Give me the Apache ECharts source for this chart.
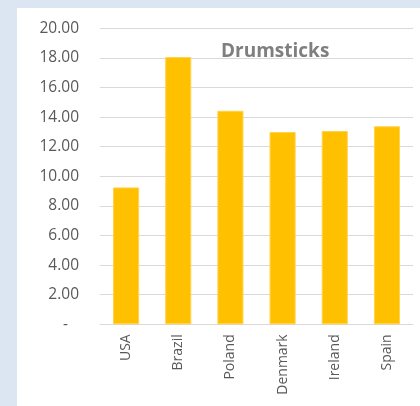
<!DOCTYPE html>
<html>
<head>
<meta charset="utf-8">
<script src="https://cdn.jsdelivr.net/npm/echarts@6/dist/echarts.min.js"></script>
<style>
html,body{margin:0;padding:0;background:#dce6f2;}
#panel{position:absolute;left:17px;top:8px;width:403px;height:398px;background:#fff;}
#chart{position:absolute;left:0;top:0;width:420px;height:406px;}
</style>
</head>
<body>
<div id="panel"></div>
<div id="chart"></div>
<script>
const categories = ['USA', 'Brazil', 'Poland', 'Denmark', 'Ireland', 'Spain'];
const values = [9.25, 18.06, 14.43, 12.99, 13.06, 13.38];
const yTicks = { min: 0, max: 20, interval: 2 };
const titleText = 'Drumsticks';

const chart = echarts.init(document.getElementById('chart'), null, { renderer: 'canvas' });
chart.setOption({
  backgroundColor: 'transparent',
  animation: false,
  title: {
    text: titleText,
    left: 216,
    top: 37,
    textStyle: { fontFamily: 'Open Sans', fontWeight: 'bold', fontSize: 19, color: '#7f7f7f' }
  },
  grid: { left: 100, right: 7, top: 28.3, bottom: 81.7 },
  xAxis: {
    type: 'category',
    data: categories,
    axisLine: { lineStyle: { color: '#d9d9d9', width: 1 } },
    axisTick: { show: false },
    axisLabel: { rotate: 90, color: '#595959', fontFamily: 'Open Sans', fontSize: 14, margin: 10 }
  },
  yAxis: {
    type: 'value',
    min: yTicks.min, max: yTicks.max, interval: yTicks.interval,
    axisLine: { show: false },
    axisTick: { show: false },
    splitLine: { lineStyle: { color: '#d9d9d9', width: 1 } },
    axisLabel: {
      color: '#595959', fontFamily: 'Open Sans', fontSize: 15.5, margin: 21,
      formatter: v => v === 0 ? '{d|-}' : v.toFixed(2),
      rich: { d: { color: '#595959', fontFamily: 'Open Sans', fontSize: 15.5, padding: [0, 11, 0, 0] } }
    }
  },
  series: [{
    type: 'bar',
    data: values,
    barWidth: '50%',
    itemStyle: { color: '#ffc000', borderColor: '#ffd34d', borderWidth: 1 }
  }]
});
</script>
</body>
</html>
